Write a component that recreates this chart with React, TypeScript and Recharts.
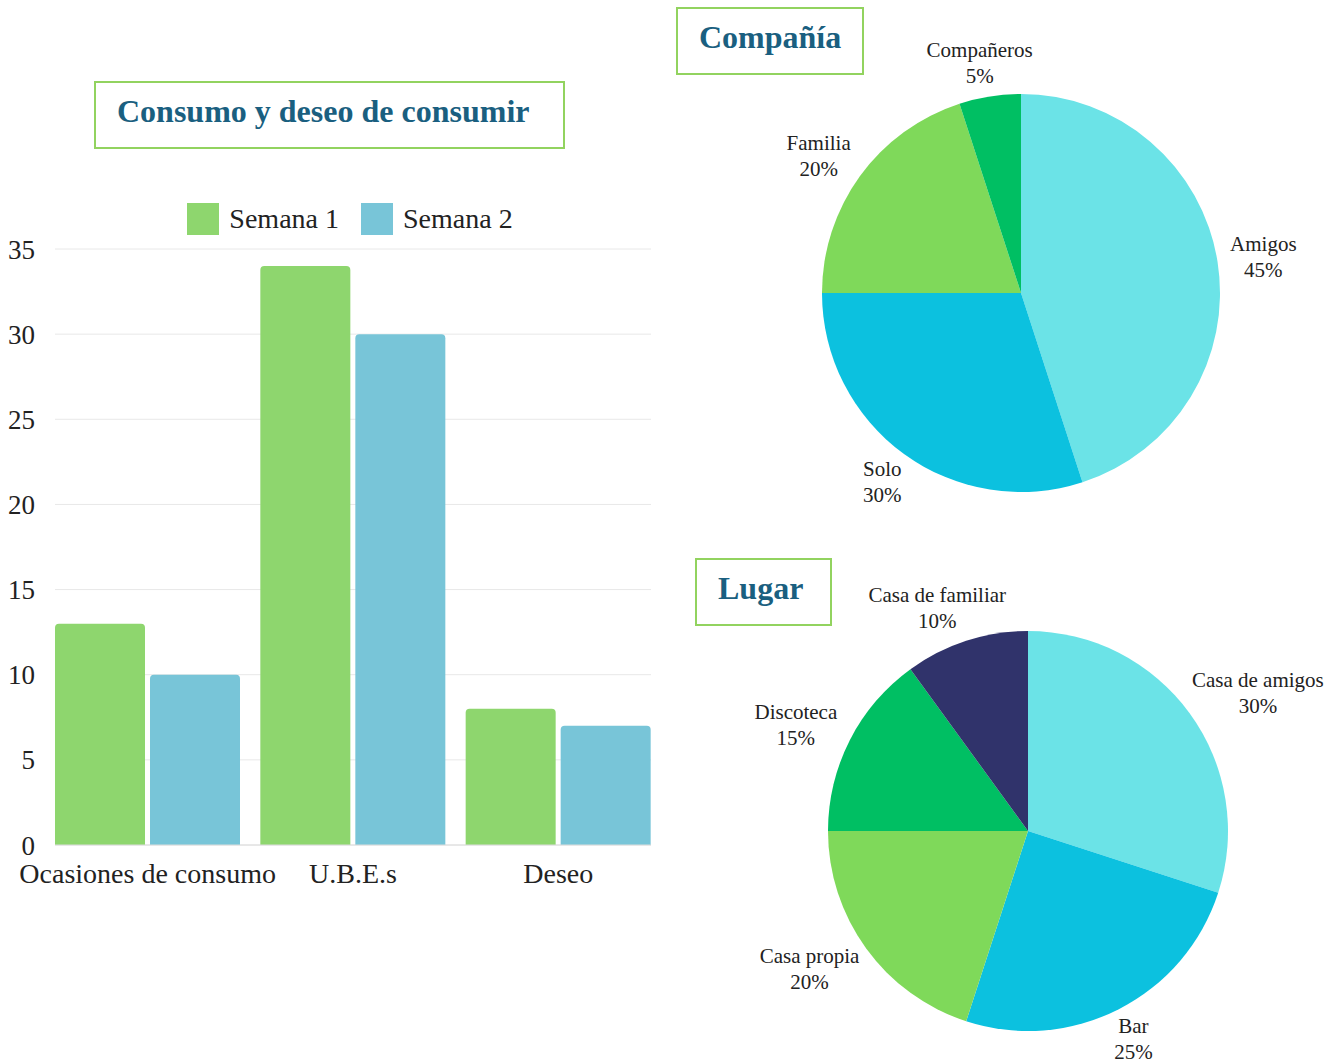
import React from "react";
import { BarChart, Bar, XAxis, YAxis, CartesianGrid, Legend, PieChart, Pie, Cell } from "recharts";

const categories = ["Ocasiones de consumo", "U.B.E.s", "Deseo"];
const semana1 = [13, 34, 8];
const semana2 = [10, 30, 7];
const yTicks = [0, 5, 10, 15, 20, 25, 30, 35];

const companiaNames = ["Amigos", "Solo", "Familia", "Compañeros"];
const companiaValues = [45, 30, 20, 5];
const companiaColors = ["#6be3e7", "#0cc1df", "#7fd95a", "#00bf63"];

const lugarNames = ["Casa de amigos", "Bar", "Casa propia", "Discoteca", "Casa de familiar"];
const lugarValues = [30, 25, 20, 15, 10];
const lugarColors = ["#6be3e7", "#0cc1df", "#7fd95a", "#00bf63", "#30336b"];

const barData = categories.map((c, i) => ({ name: c, s1: semana1[i], s2: semana2[i] }));
const companiaData = companiaNames.map((n, i) => ({ name: n, value: companiaValues[i] }));
const lugarData = lugarNames.map((n, i) => ({ name: n, value: lugarValues[i] }));

const SERIF = '"Liberation Serif", "Times New Roman", serif';
const TITLE_COLOR = "#1a5f80";
const BOX_BORDER = "2px solid #92d35f";
const GREEN = "#8ed66e";
const BLUE = "#78c5d8";

const RAD = Math.PI / 180;
const LABEL_FS = 21;

function renderPieLabel(props: any) {
  const { cx, cy, midAngle, outerRadius, name, percent } = props;
  const dx = Math.cos(-midAngle * RAD);
  const dy = Math.sin(-midAngle * RAD);
  const pct = `${Math.round(percent * 100)}%`;
  const longest = Math.max(name.length, pct.length);
  const hw = (longest * 0.45 * LABEL_FS) / 2;
  const hh = 16;
  const R = outerRadius + 18;
  const x = cx + dx * R + dx * hw;
  const y = cy + dy * R + dy * hh;
  return (
    <text
      x={x}
      y={y}
      textAnchor="middle"
      fill="#222"
      style={{ fontFamily: SERIF, fontSize: LABEL_FS }}
    >
      <tspan x={x} y={y - 13} dominantBaseline="central">{name}</tspan>
      <tspan x={x} y={y + 13} dominantBaseline="central">{pct}</tspan>
    </text>
  );
}

function LegendContent() {
  const items = [
    { label: "Semana 1", color: GREEN },
    { label: "Semana 2", color: BLUE },
  ];
  return (
    <div style={{ display: "flex", justifyContent: "center", alignItems: "center", fontFamily: SERIF, fontSize: 28, color: "#222" }}>
      {items.map((it, i) => (
        <div key={i} style={{ display: "flex", alignItems: "center", marginRight: i === 0 ? 22 : 0 }}>
          <div style={{ width: 32, height: 32, background: it.color, marginRight: 10 }} />
          <span>{it.label}</span>
        </div>
      ))}
    </div>
  );
}

function TitleBox({ text, left, top, width, height }: { text: string; left: number; top: number; width: number; height: number }) {
  return (
    <div
      style={{
        position: "absolute",
        left,
        top,
        width,
        height,
        boxSizing: "border-box",
        border: BOX_BORDER,
        display: "flex",
        alignItems: "center",
        paddingLeft: 21,
        paddingBottom: 7,
        fontFamily: SERIF,
        fontWeight: "bold",
        fontSize: 32,
        color: TITLE_COLOR,
        whiteSpace: "nowrap",
      }}
    >
      {text}
    </div>
  );
}

export default function App() {
  return (
    <div style={{ position: "absolute", left: 0, top: 0, width: 1338, height: 1063, background: "#fff", overflow: "hidden" }}>
      <TitleBox text="Consumo y deseo de consumir" left={94} top={81} width={471} height={68} />
      <TitleBox text="Compañía" left={676} top={7} width={188} height={68} />
      <TitleBox text="Lugar" left={695} top={558} width={137} height={68} />

      <div style={{ position: "absolute", left: 0, top: 0 }}>
        <BarChart
          width={700}
          height={900}
          data={barData}
          margin={{ top: 249, right: 49, left: 0, bottom: 0 }}
          barCategoryGap={10}
          barGap={5}
        >
          <CartesianGrid vertical={false} stroke="#e8e8e8" />
          <XAxis
            dataKey="name"
            height={55}
            padding={{ left: -10, right: -10 }}
            tickLine={false}
            axisLine={{ stroke: "#dcdcdc" }}
            tickMargin={12}
            tick={{ fill: "#222", fontSize: 28, fontFamily: SERIF }}
            interval={0}
          />
          <YAxis
            width={55}
            domain={[0, 35]}
            ticks={yTicks}
            axisLine={false}
            tickLine={false}
            tickMargin={14}
            tick={{ fill: "#222", fontSize: 27, fontFamily: SERIF }}
          />
          <Legend
            verticalAlign="middle"
            layout="horizontal"
            content={<LegendContent />}
            wrapperStyle={{ top: 203, left: 0, width: 700 }}
          />
          <Bar dataKey="s1" name="Semana 1" fill={GREEN} radius={[4, 4, 0, 0]} isAnimationActive={false} />
          <Bar dataKey="s2" name="Semana 2" fill={BLUE} radius={[4, 4, 0, 0]} isAnimationActive={false} />
        </BarChart>
      </div>

      <div style={{ position: "absolute", left: 700, top: 0 }}>
        <PieChart width={638} height={540}>
          <Pie
            data={companiaData}
            dataKey="value"
            nameKey="name"
            cx={316}
            cy={288}
            outerRadius={199}
            startAngle={90}
            endAngle={-270}
            stroke="none"
            label={renderPieLabel}
            labelLine={false}
            isAnimationActive={false}
          >
            {companiaData.map((d, i) => (
              <Cell key={d.name} fill={companiaColors[i]} />
            ))}
          </Pie>
        </PieChart>
      </div>

      <div style={{ position: "absolute", left: 700, top: 540 }}>
        <PieChart width={638} height={523}>
          <Pie
            data={lugarData}
            dataKey="value"
            nameKey="name"
            cx={323}
            cy={286}
            outerRadius={200}
            startAngle={90}
            endAngle={-270}
            stroke="none"
            label={renderPieLabel}
            labelLine={false}
            isAnimationActive={false}
          >
            {lugarData.map((d, i) => (
              <Cell key={d.name} fill={lugarColors[i]} />
            ))}
          </Pie>
        </PieChart>
      </div>
    </div>
  );
}
